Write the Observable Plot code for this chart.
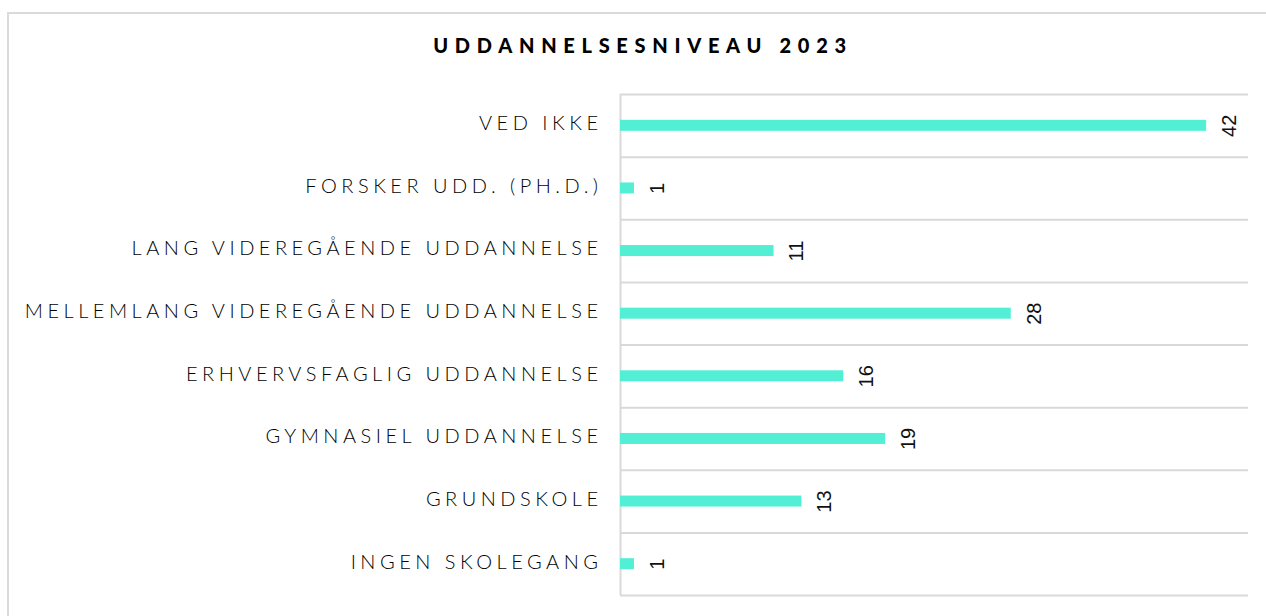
<!DOCTYPE html>
<html>
<head>
<meta charset="utf-8">
<script src="https://cdn.jsdelivr.net/npm/d3@7"></script>
<script src="https://cdn.jsdelivr.net/npm/@observablehq/plot@0.6"></script>
<style>
  html, body { margin: 0; padding: 0; background: #fff; overflow: hidden; }
  #frame { position: absolute; left: 7px; top: 12px; width: 1400px; height: 800px;
           border: 2px solid #dadada; box-sizing: border-box; }
  #title { position: absolute; left: 4px; width: 1278px; top: 33px; text-align: center;
           font-family: Lato, sans-serif; font-weight: 900; font-size: 20px;
           letter-spacing: 6.7px; color: #000; margin: 0; line-height: 24px; }
  #chart { position: absolute; left: 0; top: 0; }
  #chart svg { font-family: Lato, sans-serif; }
</style>
</head>
<body>
<div id="frame"></div>
<h2 id="title">UDDANNELSESNIVEAU 2023</h2>
<div id="chart"></div>
<script>
const categories = [
  "VED IKKE",
  "FORSKER UDD. (PH.D.)",
  "LANG VIDEREGÅENDE UDDANNELSE",
  "MELLEMLANG VIDEREGÅENDE UDDANNELSE",
  "ERHVERVSFAGLIG UDDANNELSE",
  "GYMNASIEL UDDANNELSE",
  "GRUNDSKOLE",
  "INGEN SKOLEGANG"
];
const values = [42, 1, 11, 28, 16, 19, 13, 1];

const data = categories.map((c, i) => ({category: c, value: values[i]}));

const W = 1266, H = 616;
const mTop = 94, mBottom = 21, mLeft = 620, mRight = 18;
const band = (H - mTop - mBottom) / categories.length;
const barH = 11;
const grid = "#d9d9d9";

const chart = Plot.plot({
  width: W,
  height: H,
  marginTop: mTop,
  marginBottom: mBottom,
  marginLeft: mLeft,
  marginRight: mRight,
  x: {domain: [0, 45], axis: null},
  y: {domain: categories, padding: 0, round: false, label: null},
  marks: [
    Plot.tickY(categories, {y: d => d, stroke: grid, strokeWidth: 2, dy: -band / 2}),
    Plot.tickY(categories.slice(-1), {y: d => d, stroke: grid, strokeWidth: 2, dy: band / 2}),
    Plot.ruleX([0], {stroke: grid, strokeWidth: 2}),
    Plot.barX(data, {
      y: "category", x: "value", fill: "#52efd4",
      insetTop: (band - barH) / 2, insetBottom: (band - barH) / 2
    }),
    Plot.text(data, {
      y: "category", x: "value", text: d => String(d.value),
      rotate: -90, dx: 23, textAnchor: "middle", fontSize: 20,
      fill: "#111", fontFamily: "Liberation Sans, Arial, sans-serif"
    }),
    Plot.axisY({
      tickSize: 0, tickPadding: 18, fontSize: 20, label: null,
      fill: "#000", dy: -2
    })
  ]
});

chart.querySelectorAll("g[aria-label='y-axis tick label'] text").forEach(t => {
  t.style.letterSpacing = "4.5px";
  t.style.fontWeight = "300";
});

document.getElementById("chart").appendChild(chart);
</script>
</body>
</html>
